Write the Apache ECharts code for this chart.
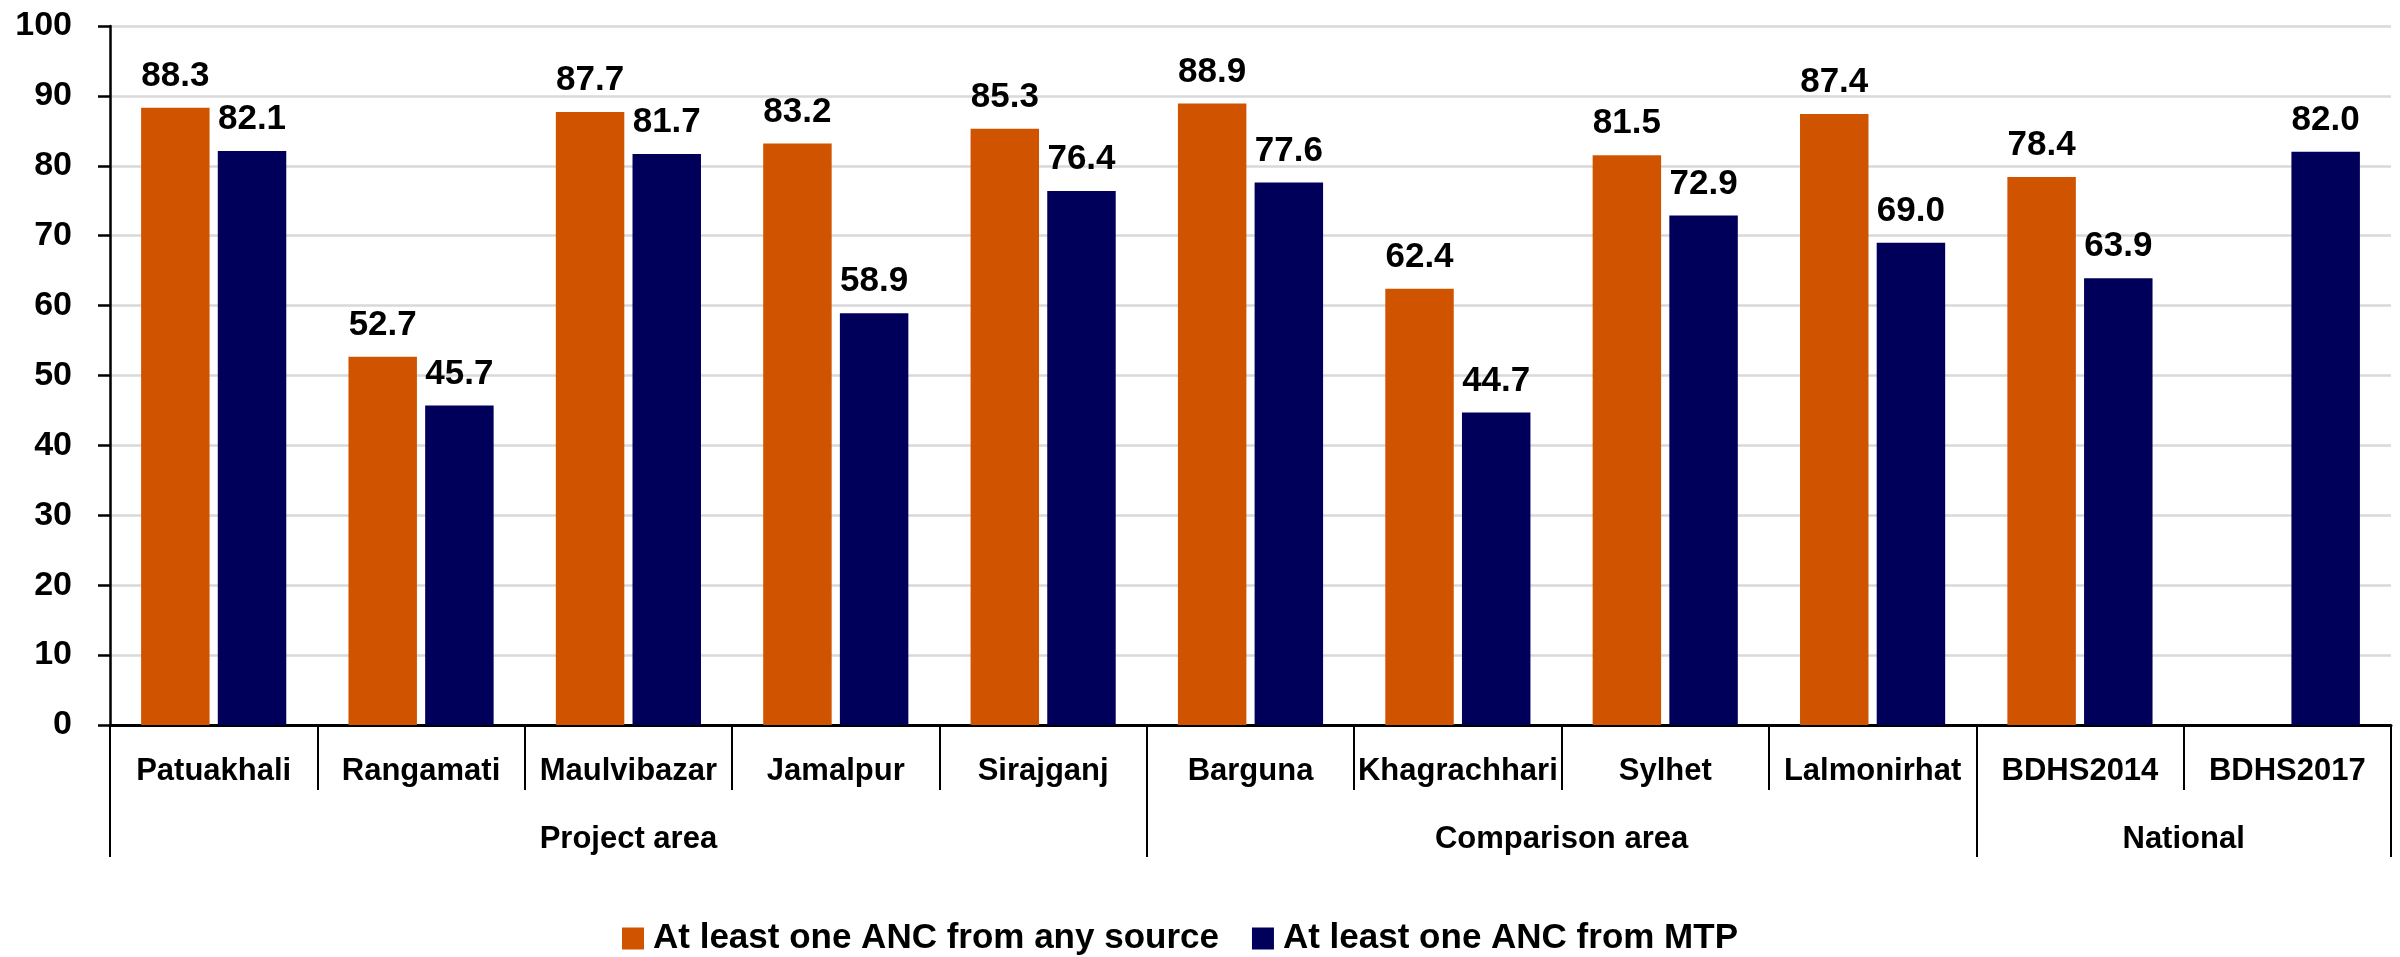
<!DOCTYPE html>
<html>
<head>
<meta charset="utf-8">
<script src="https://cdn.jsdelivr.net/npm/echarts@6/dist/echarts.min.js"></script>
<style>
  html, body { margin: 0; padding: 0; background: #fff; }
  #chart { width: 2400px; height: 957px; }
</style>
</head>
<body>
<div id="chart"></div>
<script>
const categories = ['Patuakhali', 'Rangamati', 'Maulvibazar', 'Jamalpur', 'Sirajganj',
  'Barguna', 'Khagrachhari', 'Sylhet', 'Lalmonirhat', 'BDHS2014', 'BDHS2017']
const groups = ['Project area', 'Comparison area', 'National']
const groupSizes = [5, 4, 2]
const anyAnc = [88.3, 52.7, 87.7, 83.2, 85.3, 88.9, 62.4, 81.5, 87.4, 78.4, null]
const mtpAnc = [82.1, 45.7, 81.7, 58.9, 76.4, 77.6, 44.7, 72.9, 69.0, 63.9, 82.0]
const seriesNames = ['At least one ANC from any source', 'At least one ANC from MTP']

const FONT = '"Liberation Sans", Arial, sans-serif'

// group boundaries and centres on a 0..n value scale
let bounds = [0]
groupSizes.forEach(function (s) { bounds.push(bounds[bounds.length - 1] + s) })
let centres = groupSizes.map(function (s, i) { return bounds[i] + s / 2 })

let myChart = echarts.init(document.getElementById('chart'))
let labelStyle = {
  show: true,
  position: 'top',
  distance: 14,
  color: '#000',
  fontFamily: FONT,
  fontWeight: 'bold',
  fontSize: 35,
  formatter: function (p) { return p.value == null ? '' : Number(p.value).toFixed(1) }
}
myChart.setOption({
  animation: false,
  textStyle: { fontFamily: FONT },
  grid: { left: 110, right: 9, top: 26, bottom: 232, containLabel: false },
  legend: {
    left: 617,
    top: 916,
    itemWidth: 22,
    itemHeight: 22,
    itemGap: 33,
    icon: 'rect',
    textStyle: { fontFamily: FONT, fontWeight: 'bold', fontSize: 35, color: '#000', padding: [0, 0, 0, 4] },
    data: seriesNames
  },
  xAxis: [{
    type: 'category',
    data: categories,
    position: 'bottom',
    axisLine: { lineStyle: { color: '#000', width: 3 } },
    axisTick: { show: true, interval: 0, length: 65, lineStyle: { color: '#000', width: 2 } },
    axisLabel: {
      interval: 0,
      margin: 31,
      color: '#000',
      fontFamily: FONT,
      fontWeight: 'bold',
      fontSize: 31
    },
    splitLine: { show: false }
  }, {
    type: 'value',
    min: 0,
    max: categories.length,
    position: 'bottom',
    axisLine: { show: false },
    axisTick: { show: true, customValues: bounds, length: 132, lineStyle: { color: '#000', width: 2 } },
    axisLabel: {
      customValues: centres,
      margin: 99,
      color: '#000',
      fontFamily: FONT,
      fontWeight: 'bold',
      fontSize: 31,
      formatter: function (v) {
        let i = centres.indexOf(v)
        return i >= 0 ? groups[i] : ''
      }
    },
    splitLine: { show: false }
  }],
  yAxis: {
    type: 'value',
    min: 0,
    max: 100,
    interval: 10,
    axisLine: { show: true, lineStyle: { color: '#000', width: 2.5 } },
    axisTick: { show: true, length: 12, lineStyle: { color: '#000', width: 2.5 } },
    axisLabel: {
      margin: 38,
      color: '#000',
      fontFamily: FONT,
      fontWeight: 'bold',
      fontSize: 34
    },
    splitLine: { lineStyle: { color: '#D9D9D9', width: 2.5 } }
  },
  series: [{
    name: seriesNames[0],
    type: 'bar',
    data: anyAnc,
    barCategoryGap: '30%',
    barGap: '12%',
    itemStyle: { color: '#D05400' },
    label: labelStyle
  }, {
    name: seriesNames[1],
    type: 'bar',
    data: mtpAnc,
    barCategoryGap: '30%',
    barGap: '12%',
    itemStyle: { color: '#00005A' },
    label: labelStyle
  }]
})
window.addEventListener('resize', function () {
  myChart.resize()
})
</script>
</body>
</html>
